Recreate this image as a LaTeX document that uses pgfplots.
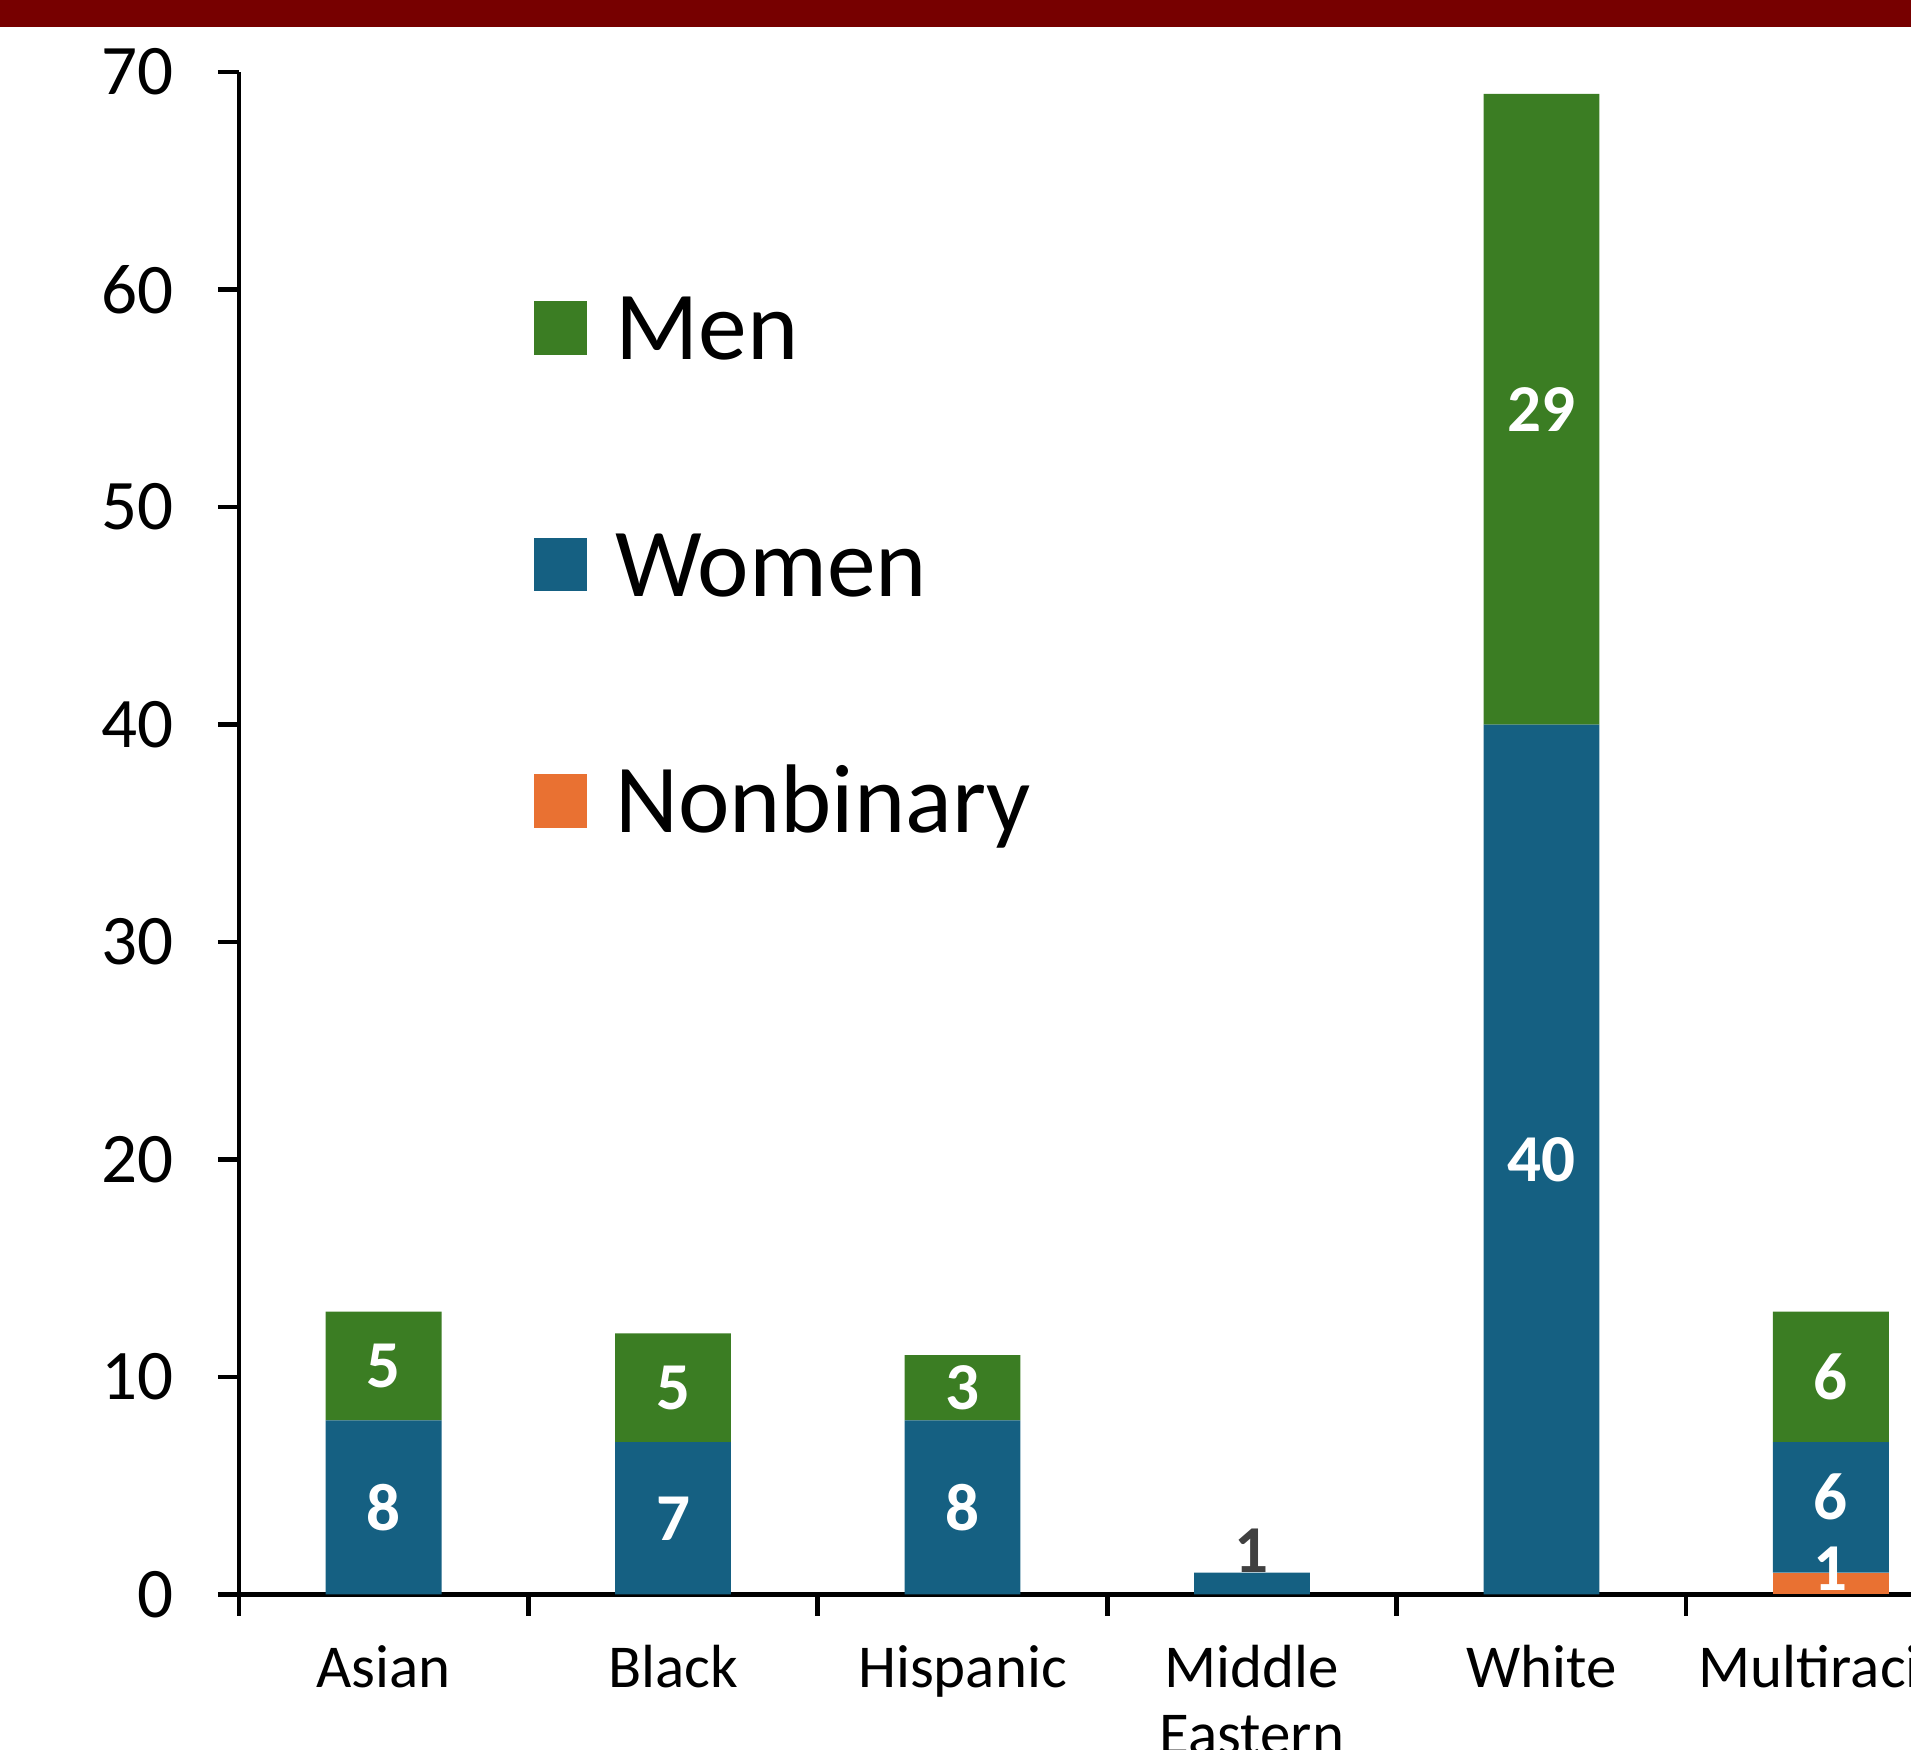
\documentclass[border=0pt]{standalone}
\usepackage{fontspec}
\setmainfont{Carlito}
\usepackage{pgfplots}
\pgfplotsset{compat=1.18}

\definecolor{men}{HTML}{3B7D23}
\definecolor{women}{HTML}{156082}
\definecolor{nonbin}{HTML}{E97132}
\definecolor{band}{HTML}{770000}
\definecolor{lblgrey}{HTML}{404040}

% shared frame of both axes (1 px of the 1568 wide view = 0.3pt)
\pgfplotsset{
  frame/.style={
    x=71.25pt, y=5.3529pt,
    xmin=-0.5, xmax=5.2768, ymin=0, ymax=70,
    clip=false,
  },
}

\begin{document}
\begin{tikzpicture}
\begin{axis}[frame,
  ybar stacked, bar width=0.4,
  axis x line=bottom, axis y line=left,
  axis line style={-, line width=1.15pt},
  tick align=outside,
  major tick length=5.2pt,
  tick style={line width=1.15pt, black},
  ytick={0,10,...,70},
  yticklabel style={font=\fontsize{17.5}{20}\selectfont, xshift=-7.3pt},
  xtick={-0.5,0.5,...,4.5},
  xticklabels={},
  extra x ticks={0,1,2,3,4,5},
  extra x tick labels={Asian,Black,Hispanic,{Middle\\Eastern},White,Multiracial},
  extra x tick style={major tick length=0pt,
    xticklabel style={font=\fontsize{15}{16.5}\selectfont, align=center, yshift=-9pt}},
  /pgf/number format/assume math mode=true,
  reverse legend,
  legend image code/.code={\fill[#1] (0pt,-6.6pt) rectangle (13.2pt,6.6pt);},
  legend style={draw=none, fill=none, inner sep=0pt, outer sep=0pt,
    at={(axis cs:0.519,59.69)}, anchor=north west,
    font=\fontsize{24}{30}\selectfont, row sep=42.6pt,
    nodes={inner sep=0pt, text height=15.6pt, text depth=0pt},
    /tikz/every odd column/.append style={column sep=6.8pt}},
  legend cell align=left,
]
\addplot[fill=nonbin, draw=none] coordinates {(0,0) (1,0) (2,0) (3,0) (4,0) (5,1)};
\addlegendentry{Nonbinary}
\addplot[fill=women, draw=none] coordinates {(0,8) (1,7) (2,8) (3,1) (4,40) (5,6)};
\addlegendentry{Women}
\addplot[fill=men, draw=none] coordinates {(0,5) (1,5) (2,3) (3,0) (4,29) (5,6)};
\addlegendentry{Men}
\coordinate (bl) at (axis cs:-1.3253,-7.119);
\coordinate (tr) at (axis cs:5.2768,73.318);
\end{axis}

% segment labels
\begin{axis}[frame, hide axis]
\addplot[draw=none, nodes near coords, point meta=explicit symbolic,
  every node near coord/.append style={anchor=center, text=white,
    font=\bfseries\fontsize{16.5}{18}\selectfont}]
  coordinates {(0,4) [8] (0,10.5) [5] (1,3.5) [7] (1,9.5) [5]
    (2,4) [8] (2,9.5) [3] (4,20) [40] (4,54.5) [29]
    (5,1.2) [1] (5,4.5) [6] (5,10) [6]};
\addplot[draw=none, nodes near coords, point meta=explicit symbolic,
  every node near coord/.append style={anchor=center, text=lblgrey,
    font=\bfseries\fontsize{16.5}{18}\selectfont}]
  coordinates {(3,2) [1]};
\end{axis}

\fill[band] (bl|-tr) rectangle ([yshift=-6.6pt]tr);
\pgfresetboundingbox
\path[use as bounding box] (bl) rectangle (tr);
\end{tikzpicture}
\end{document}
